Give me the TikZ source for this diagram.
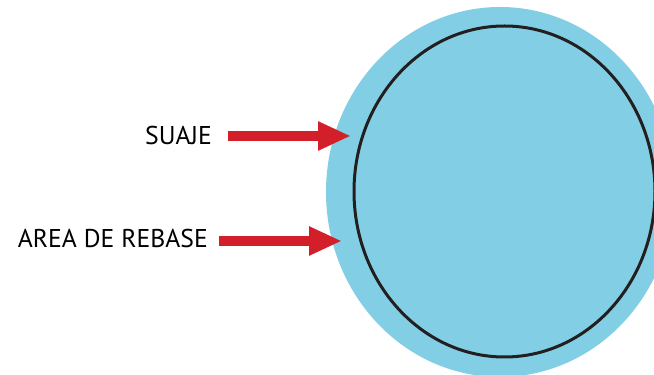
\documentclass[tikz,border=0pt]{standalone}
\usepackage{fontspec}
\setmainfont{PT Sans}
\usetikzlibrary{positioning, arrows.meta}
\definecolor{diecyan}{RGB}{130,207,229}
\definecolor{diered}{RGB}{210,31,42}
\definecolor{dieblack}{RGB}{35,31,32}
\begin{document}
\begin{tikzpicture}[x=1pt, y=1pt,
    tag/.style={inner sep=0pt, anchor=base east, font=\fontsize{25.7}{30}\selectfont, text=black},
    arrow/.style={-{Triangle[length=33pt, width=27pt]}, line width=10pt, draw=diered}
]
    \useasboundingbox (0,0) rectangle (654,375);
    \begin{scope}
        \clip (0,0) rectangle (654,375);
        \fill [diecyan] (500,183) ellipse [x radius=174, y radius=185];
    \end{scope}
    \draw [dieblack, line width=3pt] (504.5,183.5) ellipse [x radius=150.5, y radius=165.5];

    \node [tag] (suaje) at (212,230) {SUAJE};
    \node [tag] (rebase) at (208,127) {AREA DE REBASE};
    \coordinate (suajetip) at (351,239);
    \coordinate (rebasetip) at (342,134);

    \draw [arrow] ([xshift=16pt]suaje.east |- suajetip) -- (suajetip);
    \draw [arrow] ([xshift=11pt]rebase.east |- rebasetip) -- (rebasetip);
\end{tikzpicture}
\end{document}
